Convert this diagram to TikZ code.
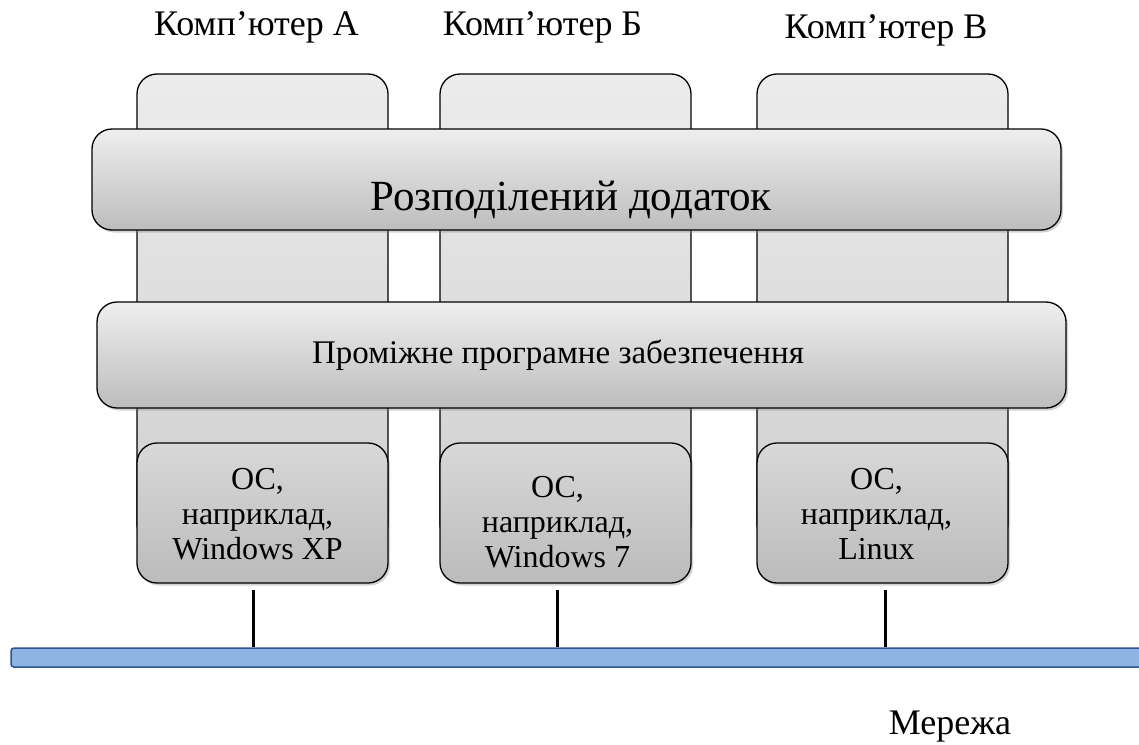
\documentclass[tikz,border=0pt]{standalone}
\usepackage{fontspec}
\setmainfont{Liberation Serif}
\usetikzlibrary{shadows}

\begin{document}
\begin{tikzpicture}[x=1pt,y=-1pt,
	box/.style={draw=black,line width=1.3pt,rounded corners=20pt,shading=axis,inner sep=0pt},
	column/.style={box,top color=colTop,bottom color=colBot,minimum width=251pt,minimum height=470pt},
	layer/.style={box,top color=barTop,bottom color=barBot,minimum width=969pt,
		drop shadow={shadow xshift=2pt,shadow yshift=-2.5pt,opacity=0.35}},
	osbox/.style={box,top color=osTop,bottom color=osBot,minimum width=251pt,minimum height=140pt,
		drop shadow={shadow xshift=2pt,shadow yshift=-2.5pt,opacity=0.35}},
	ostext/.style={align=center,font=\fontsize{32}{35}\selectfont},
	title/.style={font=\fontsize{36}{42}\selectfont},
	link/.style={line width=3pt}]
	\definecolor{colTop}{HTML}{ECECEC}
	\definecolor{colBot}{HTML}{CFCFCF}
	\definecolor{barTop}{HTML}{EEEEEE}
	\definecolor{barBot}{HTML}{BDBDBD}
	\definecolor{osTop}{HTML}{D8D8D8}
	\definecolor{osBot}{HTML}{BBBBBB}
	\definecolor{netFill}{HTML}{8EB4E3}
	\definecolor{netLine}{HTML}{2F528F}
	\useasboundingbox (0,0) rectangle (1139,744);

	% computers
	\node[column] (compA) at (262.5,309) {};
	\node[column] (compB) at (565.5,309) {};
	\node[column] (compC) at (882.5,309) {};
	\node[title] (nameA) at (256.5,27) {Комп’ютер А};
	\node[title] (nameB) at (542.5,27) {Комп’ютер Б};
	\node[title] (nameC) at (886,30) {Комп’ютер В};

	% layers across all computers
	\node[layer,minimum height=101pt] (app) at (576.5,179.5) {};
	\node[font=\fontsize{43}{48}\selectfont] (appText) at ([xshift=-5.5pt,yshift=-20pt]app.center) {Розподілений додаток};
	\node[layer,minimum height=106pt] (mid) at (581.5,355) {};
	\node[font=\fontsize{33}{38}\selectfont] (midText) at ([xshift=-23.5pt]mid.center) {Проміжне програмне забезпечення};

	% operating systems
	\node[osbox] (osA) at (262.5,513) {};
	\node[osbox] (osB) at (565.5,513) {};
	\node[osbox] (osC) at (882.5,513) {};
	\node[ostext] (osAText) at ([xshift=-5pt,yshift=-1pt]osA.center) {ОС,\\наприклад,\\Windows XP};
	\node[ostext] (osBText) at ([xshift=-8pt,yshift=-9pt]osB.center) {ОС,\\наприклад,\\Windows 7};
	\node[ostext] (osCText) at ([xshift=-6pt,yshift=-1pt]osC.center) {ОС,\\наприклад,\\Linux};

	% network
	\node[draw=netLine,fill=netFill,line width=1.5pt,rounded corners=3pt,minimum width=1150pt,minimum height=19pt,inner sep=0pt] (net) at (586,657.5) {};
	\draw[link] ([xshift=-9.5pt,yshift=-6pt]osA.south) -- ([xshift=-9.5pt]osA.south |- net.north);
	\draw[link] ([xshift=-8.5pt,yshift=-6pt]osB.south) -- ([xshift=-8.5pt]osB.south |- net.north);
	\draw[link] ([xshift=2.5pt,yshift=-6pt]osC.south) -- ([xshift=2.5pt]osC.south |- net.north);
	\node[title] (netName) at (950,727) {Мережа};
\end{tikzpicture}
\end{document}
